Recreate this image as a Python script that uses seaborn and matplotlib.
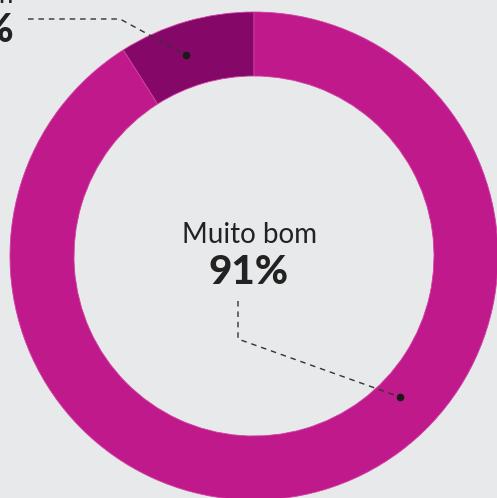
import matplotlib
matplotlib.use("Agg")
import matplotlib.pyplot as plt
import seaborn as sns

labels = ["Bom", "Muito bom"]
values = [9, 91]
colors = ["#850868", "#C0198B"]

sns.set_theme(style="white")
plt.rcParams['font.family'] = ['Lato', 'DejaVu Sans']

W, H = 497, 498
CX, CY, R = 254, 256, 244
BG = "#E8E9EB"


def px(x, y):
    # pixel position (from top-left) -> data coords
    return (x - CX) / R, (CY - y) / R


fig = plt.figure(figsize=(W / 100, H / 100), dpi=100, facecolor=BG)
ax = fig.add_axes([0, 0, 1, 1])
ax.set_facecolor(BG)

ax.pie(values, colors=colors, startangle=90, counterclock=True, radius=1,
       wedgeprops=dict(width=64 / R, linewidth=0.6, edgecolor="#D040A0"))

ax.set_xlim(-CX / R, (W - CX) / R)
ax.set_ylim(-(H - CY) / R, CY / R)
ax.set_aspect("equal")
ax.axis("off")

# center label
ax.text(*px(249, 243), labels[1], ha="center", va="baseline", fontsize=20,
        fontweight="normal", color="#222222")
ax.text(*px(249, 284), f"{values[1]}%", ha="center", va="baseline", fontsize=29,
        fontweight="black", color="#222222")

# top-left label (cut off)
ax.text(*px(14, 3), labels[0], ha="right", va="baseline", fontsize=20,
        fontweight="normal", color="#222222")
ax.text(*px(14, 42), f"{values[0]}%", ha="right", va="baseline", fontsize=29,
        fontweight="black", color="#222222")

# leader lines
line_kw = dict(color="#333333", linewidth=1, linestyle=(0, (4, 3.5)))
xs, ys = zip(px(28, 19), px(120, 19), px(186, 55))
ax.plot(xs, ys, **line_kw)
ax.plot(*px(186, 55), "o", color="#1a1a1a", markersize=4.5)

xs, ys = zip(px(238, 301), px(238, 339), px(400, 397))
ax.plot(xs, ys, **line_kw)
ax.plot(*px(400, 397), "o", color="#1a1a1a", markersize=4.5)

fig.savefig("out.png", dpi=100, facecolor=BG)
